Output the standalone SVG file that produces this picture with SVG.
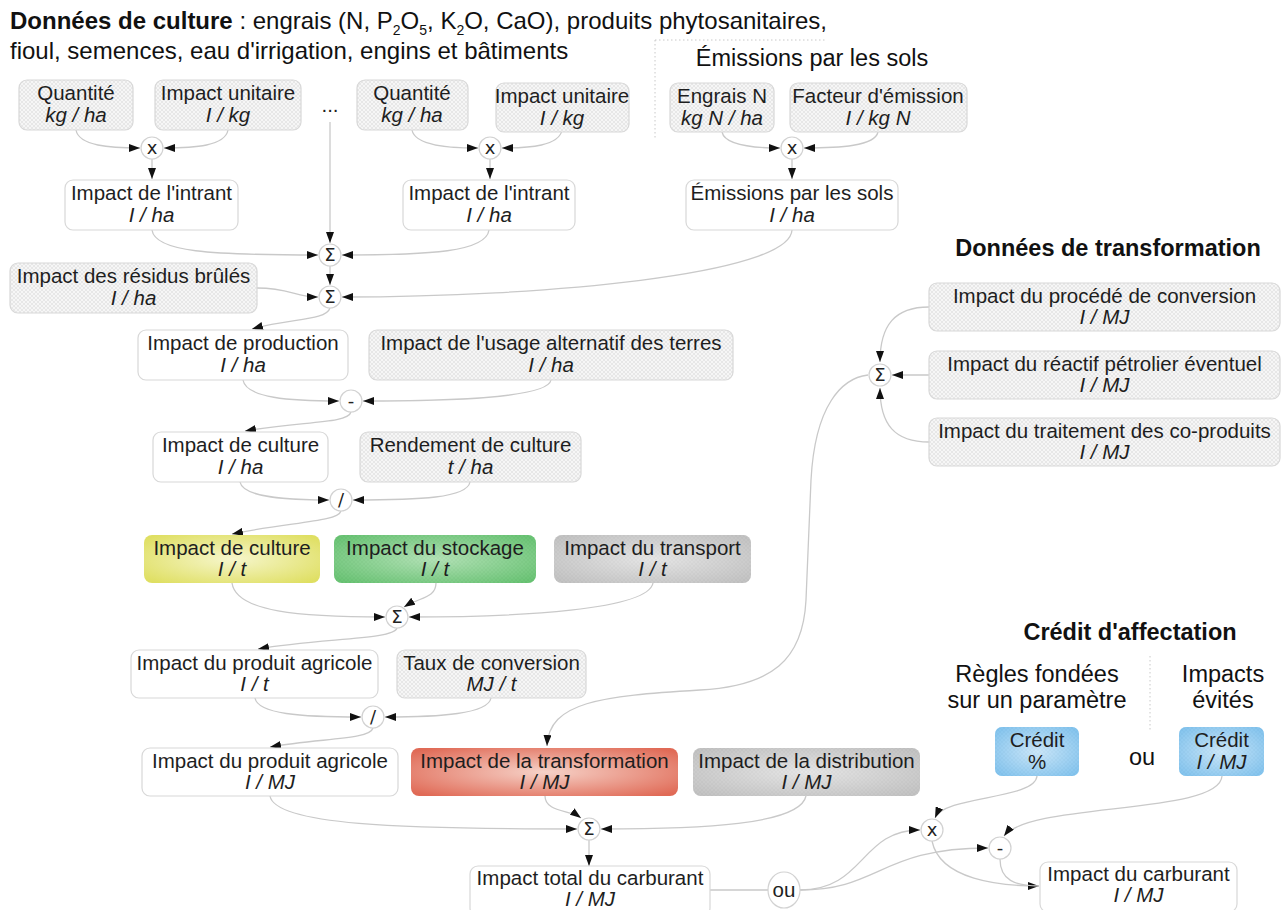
<svg xmlns="http://www.w3.org/2000/svg" width="1282" height="910" viewBox="0 0 1282 910">
<style>
.t{font-family:"Liberation Sans",Arial,sans-serif;font-size:20.5px;fill:#1e1e1e;text-anchor:middle}
.u{font-style:italic}
.h{font-family:"Liberation Sans",Arial,sans-serif;font-size:23.5px;fill:#111}
.h1{font-size:24px}
.b{font-weight:bold}
.m{text-anchor:middle}
.data{fill:url(#hatch);stroke:#d8d8d8;stroke-width:1.2}
.calc{fill:#fff;stroke:#d8d8d8;stroke-width:1.2}
.op{fill:#fff;stroke:#d2d2d2;stroke-width:1.2}
.os{font-family:"DejaVu Sans","Liberation Sans",sans-serif;font-size:18px;fill:#222;text-anchor:middle}
.c{fill:none;stroke:#c9c9c9;stroke-width:1.3;marker-end:url(#ah)}
.cn{fill:none;stroke:#c9c9c9;stroke-width:1.3}
.dot{fill:none;stroke:#c8c8c8;stroke-width:1;stroke-dasharray:1.5 2.5}
.ov{fill:url(#hatch);opacity:0.3}
</style>
<defs>
<pattern id="hatch" width="4" height="4" patternUnits="userSpaceOnUse">
<rect width="4" height="4" fill="#f6f6f6"/>
<path d="M0,0 L4,4 M4,0 L0,4" stroke="#e3e3e3" stroke-width="0.8"/>
</pattern>
<radialGradient id="gy" cx="50%" cy="50%" r="65%"><stop offset="0" stop-color="#f6f6cc"/><stop offset="1" stop-color="#dfdf62"/></radialGradient>
<radialGradient id="gg" cx="50%" cy="50%" r="65%"><stop offset="0" stop-color="#96d99b"/><stop offset="1" stop-color="#2fae3e"/></radialGradient>
<radialGradient id="gr" cx="50%" cy="50%" r="65%"><stop offset="0" stop-color="#dedede"/><stop offset="1" stop-color="#adadad"/></radialGradient>
<radialGradient id="gt" cx="50%" cy="50%" r="65%"><stop offset="0" stop-color="#f6d2c8"/><stop offset="1" stop-color="#e06a56"/></radialGradient>
<radialGradient id="gb" cx="50%" cy="50%" r="65%"><stop offset="0" stop-color="#b9e0fa"/><stop offset="1" stop-color="#52aeea"/></radialGradient>
<marker id="ah" viewBox="0 0 11 8" refX="11" refY="4" markerWidth="11" markerHeight="8" markerUnits="userSpaceOnUse" orient="auto">
<path d="M0,0 L11,4 L0,8 z" fill="#111"/>
</marker>
</defs>
<rect width="1282" height="910" fill="#fff"/>

<g id="headers">
<text class="h h1" x="10" y="29"><tspan class="b">Données de culture</tspan> : engrais (N, P<tspan font-size="14" dy="6">2</tspan><tspan dy="-6">O</tspan><tspan font-size="14" dy="6">5</tspan><tspan dy="-6">, K</tspan><tspan font-size="14" dy="6">2</tspan><tspan dy="-6">O, CaO), produits phytosanitaires,</tspan></text>
<text class="h h1" x="10" y="59">fioul, semences, eau d'irrigation, engins et bâtiments</text>
<text class="h m" x="812" y="66">Émissions par les sols</text>
<text class="h m b" x="1108" y="256">Données de transformation</text>
<text class="h m b" x="1130" y="640">Crédit d'affectation</text>
<text class="h m" x="1037" y="682">Règles fondées</text>
<text class="h m" x="1037" y="708">sur un paramètre</text>
<text class="h m" x="1223" y="682">Impacts</text>
<text class="h m" x="1223" y="708">évités</text>
<text class="h m" x="1142" y="765">ou</text>
<path class="dot" d="M655,40 L826,40 M655,40 L655,140"/>
<path class="dot" d="M1150,656 L1150,732"/>
</g>

<g id="connectors">
<path class="c" d="M76,130 C79,146 110,148 140,148"/>
<path class="c" d="M228,130 C225,146 195,148 164,148"/>
<path class="c" d="M152,159 L152,179"/>
<path class="c" d="M412,130 C415,146 450,148 478,148"/>
<path class="c" d="M562,130 C559,146 530,148 502,148"/>
<path class="c" d="M490,159 L490,179"/>
<path class="c" d="M722,132 C725,146 755,148 780,148"/>
<path class="c" d="M878,132 C875,146 840,148 804,148"/>
<path class="c" d="M792,159 L792,179"/>
<path class="c" d="M330,122 L330,243"/>
<path class="c" d="M152,230 C155,252 210,255 318,255"/>
<path class="c" d="M489,230 C486,252 430,255 342,255"/>
<path class="c" d="M330,266 L330,285"/>
<path class="c" d="M257,288 C290,288 295,297 318,297"/>
<path class="c" d="M792,230 C790,275 540,297 342,297"/>
<path class="c" d="M330,308 C326,321 290,318 252,329"/>
<path class="c" d="M243,380 C246,398 290,401 339,401"/>
<path class="c" d="M551,380 C548,398 450,401 363,401"/>
<path class="c" d="M351,412 C348,424 300,421 245,431"/>
<path class="c" d="M240,482 C243,498 290,500 329,500"/>
<path class="c" d="M470,482 C467,498 420,500 353,500"/>
<path class="c" d="M341,511 C338,522 290,522 232,534"/>
<path class="c" d="M232,583 C236,612 300,617 385,617"/>
<path class="c" d="M436,583 C436,598 420,597 404,607"/>
<path class="c" d="M653,583 C648,610 520,617 409,617"/>
<path class="c" d="M397,628 C394,640 320,638 258,649"/>
<path class="c" d="M255,698 C258,714 300,717 361,717"/>
<path class="c" d="M491,698 C488,714 440,717 385,717"/>
<path class="c" d="M373,728 C370,740 320,738 270,747"/>
<path class="c" d="M868,375 C842,378 815,405 811,480 L806,600 C803,660 772,686 700,690 C600,696 549,702 547,746"/>
<path class="c" d="M929,307 C895,307 880,325 880,362"/>
<path class="c" d="M929,375 L892,375"/>
<path class="c" d="M929,442 C895,442 880,425 880,388"/>
<path class="c" d="M270,796 C275,825 400,829 577,829"/>
<path class="c" d="M545,796 C545,812 570,810 581,818"/>
<path class="c" d="M806,796 C800,825 700,829 601,829"/>
<path class="c" d="M589,840 L589,866"/>
<path class="cn" d="M710,890 L768,890"/>
<path class="c" d="M800,890 C865,890 860,830 920,830"/>
<path class="c" d="M800,890 C880,890 880,848 988,848"/>
<path class="c" d="M1037,776 C1035,800 945,795 935,818"/>
<path class="c" d="M1222,776 C1220,815 1030,802 1004,836"/>
<path class="c" d="M932,841 C940,880 1000,886 1039,886"/>
<path class="cn" d="M1000,859 C1000,880 1015,886 1039,886"/>
</g>

<g id="n-quantite1"><rect class="data" x="19" y="80" width="114" height="50" rx="8"/><text class="t" x="76" y="100">Quantité</text><text class="t u" x="76" y="122">kg / ha</text></g>
<g id="n-unitaire1"><rect class="data" x="155" y="80" width="146" height="50" rx="8"/><text class="t" x="228" y="100">Impact unitaire</text><text class="t u" x="228" y="122">I / kg</text></g>
<g id="n-dots"><text class="t" x="330" y="112">...</text></g>
<g id="n-quantite2"><rect class="data" x="357" y="80" width="111" height="50" rx="8"/><text class="t" x="412" y="100">Quantité</text><text class="t u" x="412" y="122">kg / ha</text></g>
<g id="n-unitaire2"><rect class="data" x="496" y="83" width="133" height="49" rx="8"/><text class="t" x="562" y="103">Impact unitaire</text><text class="t u" x="562" y="125">I / kg</text></g>
<g id="n-engraisN"><rect class="data" x="670" y="83" width="104" height="49" rx="8"/><text class="t" x="722" y="103">Engrais N</text><text class="t u" x="722" y="125">kg N / ha</text></g>
<g id="n-facteur"><rect class="data" x="790" y="83" width="177" height="49" rx="8"/><text class="t" x="878" y="103">Facteur d'émission</text><text class="t u" x="878" y="125">I / kg N</text></g>

<g id="op-x1"><circle class="op" cx="152" cy="148" r="11"/><text class="os" x="152" y="154">x</text></g>
<g id="op-x2"><circle class="op" cx="490" cy="148" r="11"/><text class="os" x="490" y="154">x</text></g>
<g id="op-x3"><circle class="op" cx="792" cy="148" r="11"/><text class="os" x="792" y="154">x</text></g>

<g id="n-intrant1"><rect class="calc" x="65" y="180" width="173" height="50" rx="8"/><text class="t" x="151.5" y="200">Impact de l'intrant</text><text class="t u" x="151.5" y="222">I / ha</text></g>
<g id="n-intrant2"><rect class="calc" x="403" y="180" width="172" height="50" rx="8"/><text class="t" x="489" y="200">Impact de l'intrant</text><text class="t u" x="489" y="222">I / ha</text></g>
<g id="n-emissions"><rect class="calc" x="686" y="180" width="212" height="50" rx="8"/><text class="t" x="792" y="200">Émissions par les sols</text><text class="t u" x="792" y="222">I / ha</text></g>

<g id="op-sum1"><circle class="op" cx="330" cy="255" r="11"/><text class="os" x="330" y="261">Σ</text></g>
<g id="op-sum2"><circle class="op" cx="330" cy="297" r="11"/><text class="os" x="330" y="303">Σ</text></g>

<g id="n-residus"><rect class="data" x="10" y="263" width="247" height="50" rx="8"/><text class="t" x="133.5" y="283">Impact des résidus brûlés</text><text class="t u" x="133.5" y="305">I / ha</text></g>
<g id="n-production"><rect class="calc" x="138" y="330" width="210" height="50" rx="8"/><text class="t" x="243" y="350">Impact de production</text><text class="t u" x="243" y="372">I / ha</text></g>
<g id="n-usage"><rect class="data" x="369" y="330" width="364" height="50" rx="8"/><text class="t" x="551" y="350">Impact de l'usage alternatif des terres</text><text class="t u" x="551" y="372">I / ha</text></g>

<g id="op-minus1"><circle class="op" cx="351" cy="401" r="11"/><text class="os" x="351" y="407">-</text></g>

<g id="n-culture-ha"><rect class="calc" x="153" y="432" width="175" height="50" rx="8"/><text class="t" x="240.5" y="452">Impact de culture</text><text class="t u" x="240.5" y="474">I / ha</text></g>
<g id="n-rendement"><rect class="data" x="360" y="432" width="221" height="50" rx="8"/><text class="t" x="470.5" y="452">Rendement de culture</text><text class="t u" x="470.5" y="474">t / ha</text></g>

<g id="op-div1"><circle class="op" cx="341" cy="500" r="11"/><text class="os" x="341" y="506">/</text></g>

<g id="n-culture-t"><rect x="144" y="535" width="176" height="48" rx="8" fill="url(#gy)"/><text class="t" x="232" y="555">Impact de culture</text><text class="t u" x="232" y="576">I / t</text></g>
<g id="n-stockage"><rect x="334" y="535" width="202" height="48" rx="8" fill="url(#gg)"/><rect class="ov" x="334" y="535" width="202" height="48" rx="8"/><text class="t" x="435" y="555">Impact du stockage</text><text class="t u" x="435" y="576">I / t</text></g>
<g id="n-transport"><rect x="554" y="535" width="197" height="48" rx="8" fill="url(#gr)"/><rect class="ov" x="554" y="535" width="197" height="48" rx="8"/><text class="t" x="652.5" y="555">Impact du transport</text><text class="t u" x="652.5" y="576">I / t</text></g>

<g id="op-sum3"><circle class="op" cx="397" cy="617" r="11"/><text class="os" x="397" y="623">Σ</text></g>

<g id="n-produit-t"><rect class="calc" x="131" y="650" width="247" height="48" rx="8"/><text class="t" x="254.5" y="670">Impact du produit agricole</text><text class="t u" x="254.5" y="691">I / t</text></g>
<g id="n-taux"><rect class="data" x="397" y="650" width="189" height="48" rx="8"/><text class="t" x="491.5" y="670">Taux de conversion</text><text class="t u" x="491.5" y="691">MJ / t</text></g>

<g id="op-div2"><circle class="op" cx="373" cy="717" r="11"/><text class="os" x="373" y="723">/</text></g>

<g id="n-produit-mj"><rect class="calc" x="142" y="748" width="256" height="48" rx="8"/><text class="t" x="270" y="768">Impact du produit agricole</text><text class="t u" x="270" y="789">I / MJ</text></g>
<g id="n-transformation"><rect x="411" y="748" width="267" height="48" rx="8" fill="url(#gt)"/><text class="t" x="544.5" y="768">Impact de la transformation</text><text class="t u" x="544.5" y="789">I / MJ</text></g>
<g id="n-distribution"><rect x="693" y="748" width="227" height="48" rx="8" fill="url(#gr)"/><rect class="ov" x="693" y="748" width="227" height="48" rx="8"/><text class="t" x="806.5" y="768">Impact de la distribution</text><text class="t u" x="806.5" y="789">I / MJ</text></g>

<g id="op-sum4"><circle class="op" cx="589" cy="829" r="11"/><text class="os" x="589" y="835">Σ</text></g>

<g id="n-total"><rect class="calc" x="470" y="866" width="240" height="50" rx="8"/><text class="t" x="590" y="885">Impact total du carburant</text><text class="t u" x="590" y="906">I / MJ</text></g>
<g id="op-ou"><ellipse class="op" cx="784" cy="890" rx="16" ry="18"/><text class="t" x="784" y="897">ou</text></g>

<g id="n-procede"><rect class="data" x="929" y="283" width="351" height="48" rx="8"/><text class="t" x="1104.5" y="303">Impact du procédé de conversion</text><text class="t u" x="1104.5" y="324">I / MJ</text></g>
<g id="n-reactif"><rect class="data" x="929" y="351" width="351" height="48" rx="8"/><text class="t" x="1104.5" y="371">Impact du réactif pétrolier éventuel</text><text class="t u" x="1104.5" y="392">I / MJ</text></g>
<g id="n-coproduits"><rect class="data" x="929" y="418" width="351" height="48" rx="8"/><text class="t" x="1104.5" y="438">Impact du traitement des co-produits</text><text class="t u" x="1104.5" y="459">I / MJ</text></g>

<g id="op-sum5"><circle class="op" cx="880" cy="375" r="11"/><text class="os" x="880" y="381">Σ</text></g>

<g id="n-credit-pct"><rect x="995" y="727" width="84" height="49" rx="7" fill="url(#gb)"/><rect class="ov" x="995" y="727" width="84" height="49" rx="7"/><text class="t" x="1037" y="747">Crédit</text><text class="t" x="1037" y="769">%</text></g>
<g id="n-credit-mj"><rect x="1179" y="727" width="85" height="49" rx="7" fill="url(#gb)"/><rect class="ov" x="1179" y="727" width="85" height="49" rx="7"/><text class="t" x="1221.5" y="747">Crédit</text><text class="t u" x="1221.5" y="769">I / MJ</text></g>

<g id="op-x4"><circle class="op" cx="932" cy="830" r="11"/><text class="os" x="932" y="836">x</text></g>
<g id="op-minus2"><circle class="op" cx="1000" cy="848" r="11"/><text class="os" x="1000" y="854">-</text></g>

<g id="n-carburant"><rect class="calc" x="1040" y="862" width="197" height="50" rx="8"/><text class="t" x="1138.5" y="881">Impact du carburant</text><text class="t u" x="1138.5" y="902">I / MJ</text></g>
</svg>
